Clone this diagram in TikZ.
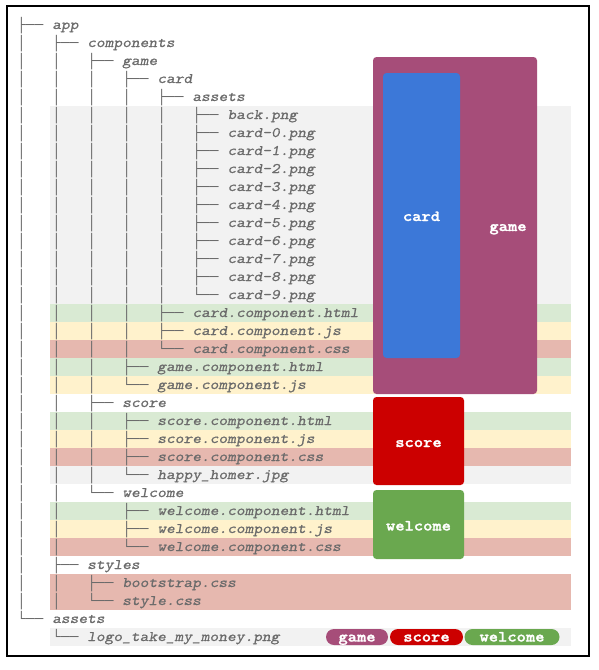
\documentclass[tikz,border=0pt]{standalone}
\usepackage{fontspec}
\newfontfamily\treefont{Liberation Mono}
\newfontfamily\namefont[FakeStretch=1.14,ItalicFont=lmmonoslant10-regular.otf,ItalicFeatures={FakeBold=0.7}]{lmmono10-regular.otf}
\newfontfamily\boldlabelfont[FakeStretch=1.14,FakeBold=1.6]{lmmonolt10-bold.otf}
\definecolor{treegray}{HTML}{6B6B6B}
\definecolor{bgray}{HTML}{F2F2F2}
\definecolor{bgreen}{HTML}{D9EAD3}
\definecolor{byellow}{HTML}{FFF2CC}
\definecolor{bred}{HTML}{E6B8AF}
\definecolor{gamec}{HTML}{A64D79}
\definecolor{cardc}{HTML}{3C78D8}
\definecolor{scorec}{HTML}{CC0000}
\definecolor{welcomec}{HTML}{6AA84F}
\newcommand\trV{│~~~}
\newcommand\trT{├──~}
\newcommand\trL{└──~}
\newcommand\trS{~~~~}
\begin{document}
\begin{tikzpicture}[x=1pt,y=-1pt,
  treerow/.style={anchor=base west,inner sep=0pt,text=treegray,
    font=\treefont\fontsize{14.6}{18}\selectfont},
  compbox/.style={draw=none,rounded corners=3.5pt,inner sep=0pt},
  complabel/.style={anchor=base,inner sep=0pt,text=white,
    font=\boldlabelfont\fontsize{15.5}{18}\selectfont},
  pill/.style={draw=none,rounded corners=8pt,inner sep=0pt,minimum height=16pt}]
\useasboundingbox (0,0) rectangle (598,670);
\fill[white] (0,0) rectangle (598,670);
% colour bands
\fill[bgray] (50,106) rectangle (571,304);
\foreach \r/\c in {16/bgreen,17/byellow,18/bred,19/bgreen,20/byellow,
  22/bgreen,23/byellow,24/bred,25/bgray,27/bgreen,28/byellow,29/bred,
  31/bred,32/bred,34/bgray}
  \fill[\c] (50,{16+18*\r}) rectangle (571,{34+18*\r});
% tree rows
\foreach \i/\p/\n in {
  0/{\trT}/app,
  1/{\trV\trT}/components,
  2/{\trV\trV\trT}/game,
  3/{\trV\trV\trV\trT}/card,
  4/{\trV\trV\trV\trV\trT}/assets,
  5/{\trV\trV\trV\trV\trV\trT}/back.png,
  6/{\trV\trV\trV\trV\trV\trT}/card-0.png,
  7/{\trV\trV\trV\trV\trV\trT}/card-1.png,
  8/{\trV\trV\trV\trV\trV\trT}/card-2.png,
  9/{\trV\trV\trV\trV\trV\trT}/card-3.png,
  10/{\trV\trV\trV\trV\trV\trT}/card-4.png,
  11/{\trV\trV\trV\trV\trV\trT}/card-5.png,
  12/{\trV\trV\trV\trV\trV\trT}/card-6.png,
  13/{\trV\trV\trV\trV\trV\trT}/card-7.png,
  14/{\trV\trV\trV\trV\trV\trT}/card-8.png,
  15/{\trV\trV\trV\trV\trV\trL}/card-9.png,
  16/{\trV\trV\trV\trV\trT}/card.component.html,
  17/{\trV\trV\trV\trV\trT}/card.component.js,
  18/{\trV\trV\trV\trV\trL}/card.component.css,
  19/{\trV\trV\trV\trT}/game.component.html,
  20/{\trV\trV\trV\trL}/game.component.js,
  21/{\trV\trV\trT}/score,
  22/{\trV\trV\trV\trT}/score.component.html,
  23/{\trV\trV\trV\trT}/score.component.js,
  24/{\trV\trV\trV\trT}/score.component.css,
  25/{\trV\trV\trV\trL}/happy\_homer.jpg,
  26/{\trV\trV\trL}/welcome,
  27/{\trV\trV\trS\trT}/welcome.component.html,
  28/{\trV\trV\trS\trT}/welcome.component.js,
  29/{\trV\trV\trS\trL}/welcome.component.css,
  30/{\trV\trT}/styles,
  31/{\trV\trV\trT}/bootstrap.css,
  32/{\trV\trV\trL}/style.css,
  33/{\trL}/assets,
  34/{\trS\trL}/logo\_take\_my\_money.png}
  \node[treerow] (r\i) at (17,{29+18*\i}) {\p{\namefont\itshape\n}};
% component boxes
\node[compbox,fill=gamec,minimum width=164pt,minimum height=337pt] (gamebox) at (455,225.5) {};
\node[compbox,fill=cardc,minimum width=77pt,minimum height=285pt] (cardbox) at (421.5,215.5) {};
\node[compbox,fill=scorec,minimum width=91pt,minimum height=88pt] (scorebox) at (418.5,441) {};
\node[compbox,fill=welcomec,minimum width=91pt,minimum height=69pt] (welcomebox) at (418.5,524.5) {};
\node[complabel] (cardlbl) at (421.5,221) {card};
\node[complabel] (gamelbl) at (508,231) {game};
\node[complabel] (scorelbl) at (418.5,447) {score};
\node[complabel] (welcomelbl) at (418.5,530.5) {welcome};
% legend pills
\node[pill,fill=gamec,minimum width=62pt] (gamepill) at (357,637) {};
\node[pill,fill=scorec,minimum width=73pt] (scorepill) at (426.5,637) {};
\node[pill,fill=welcomec,minimum width=95pt] (welcomepill) at (512,637) {};
\node[complabel] (gamepilllbl) at (357,641.5) {game};
\node[complabel] (scorepilllbl) at (426.5,641.5) {score};
\node[complabel] (welcomepilllbl) at (512,641.5) {welcome};
% frame
\draw[line width=1.3pt] (7,6) rectangle (589,656);
\end{tikzpicture}
\end{document}
